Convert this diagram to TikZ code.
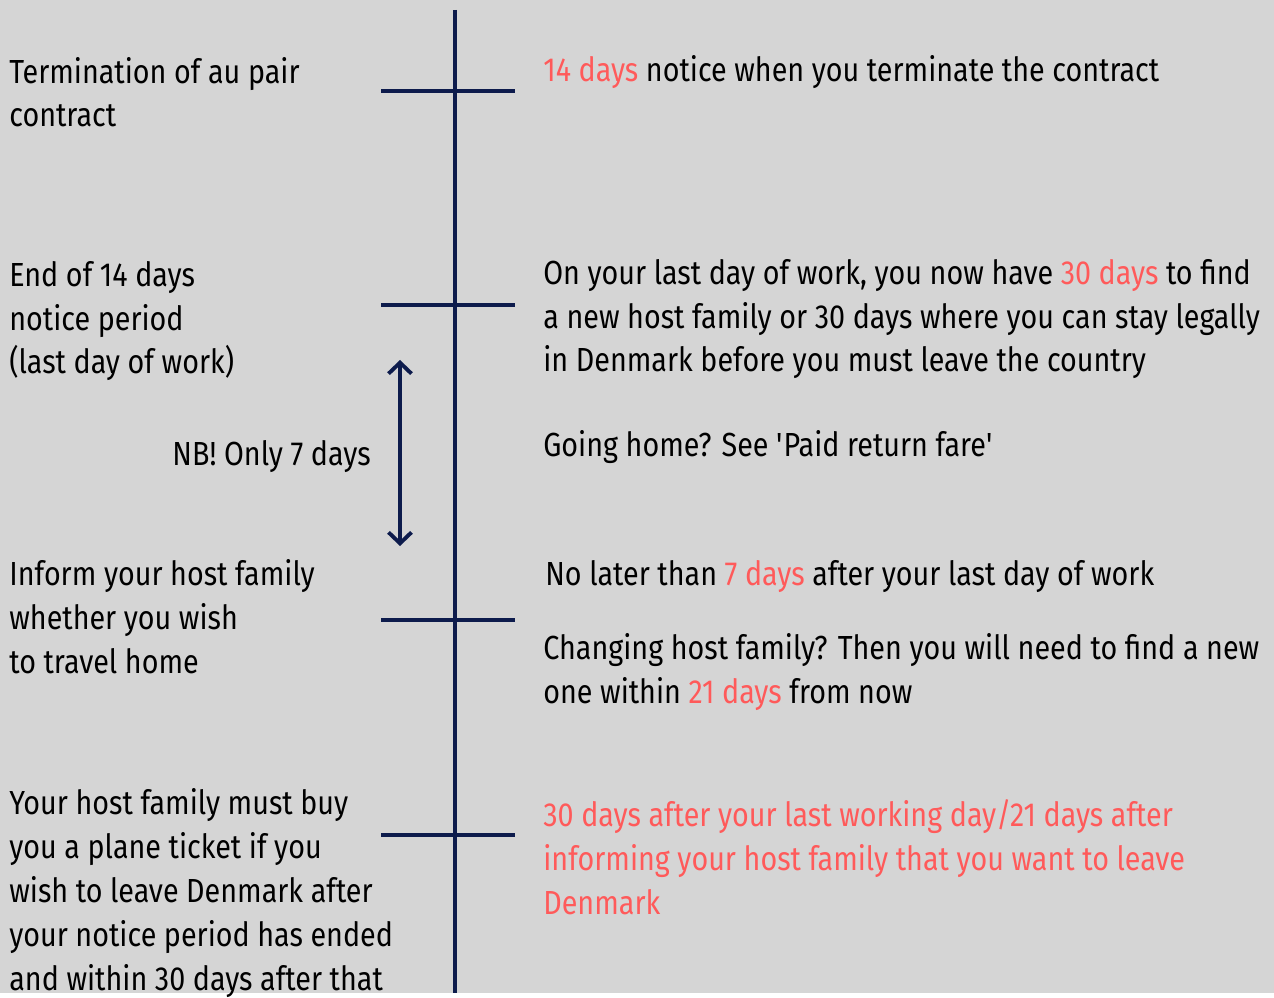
\documentclass[tikz,border=0pt]{standalone}
\usepackage{fontspec}
\setmainfont{Fira Sans}[FakeStretch=0.86]
\definecolor{LineNavy}{RGB}{13, 27, 76}
\definecolor{DayRed}{RGB}{255, 90, 90}
\definecolor{PageGray}{RGB}{213, 213, 213}
\usetikzlibrary{arrows.meta, positioning}

\begin{document}
\begin{tikzpicture}[x=0.02cm, y=-0.02cm,
        txt/.style={anchor=base west, align=left, inner sep=0pt,
            font=\fontsize{19}{25}\selectfont, text=black},
        tick/.style={LineNavy, line width=1.9pt},
        redtxt/.style={text=DayRed}]
        % Background
        \fill[PageGray] (0, 0) rectangle (1274, 993);

        % Time line
        \coordinate (top) at (455, 10);
        \coordinate (bottom) at (455, 993);
        \draw[LineNavy, line width=2.3pt] (top) -- (bottom);
        \foreach \y in {91, 305, 620, 835} {
            \draw[tick] (381, \y) -- (515, \y);
        }

        % Left column (base = last line)
        \node[txt] (termination) at (9, 127) {Termination of au pair\\contract};
        \node[txt] (endnotice) at (9, 374) {End of 14 days\\notice period\\(last day of work)};
        \node[txt] (inform) at (9, 673) {Inform your host family\\whether you wish\\to travel home};
        \node[txt] (ticket) at (9, 990) {Your host family must buy\\you a plane ticket if you\\wish to leave Denmark after\\your notice period has ended\\and within 30 days after that};

        % Only 7 days
        \coordinate (arrowtop) at (400, 360);
        \coordinate (arrowbottom) at (400, 546);
        \draw[{Straight Barb[width=0.46cm, length=0.22cm]}-{Straight Barb[width=0.46cm, length=0.22cm]}, LineNavy, line width=2.2pt, line cap=round] (arrowtop) -- (arrowbottom);
        \node[txt, anchor=base east] (onlyseven) at (371, 465) {NB! Only 7 days};

        % Right column
        \node[txt] (noticeR) at (543, 82) {\textcolor{DayRed}{14 days} notice when you terminate the contract};
        \node[txt] (lastdayR) at (543, 372) {On your last day of work, you now have \textcolor{DayRed}{30 days} to find\\a new host family or 30 days where you can stay legally\\in Denmark before you must leave the country};
        \node[txt] (goinghome) at (543, 456) {Going home? See \textquotesingle Paid return fare\textquotesingle};
        \node[txt] (sevenR) at (545, 585) {No later than \textcolor{DayRed}{7 days} after your last day of work};
        \node[txt] (changing) at (543, 703) {Changing host family? Then you will need to find a new\\one within \textcolor{DayRed}{21 days} from now};
        \node[txt, redtxt] (deadline) at (543, 914) {30 days after your last working day/21 days after\\informing your host family that you want to leave\\Denmark};
\end{tikzpicture}
\end{document}
